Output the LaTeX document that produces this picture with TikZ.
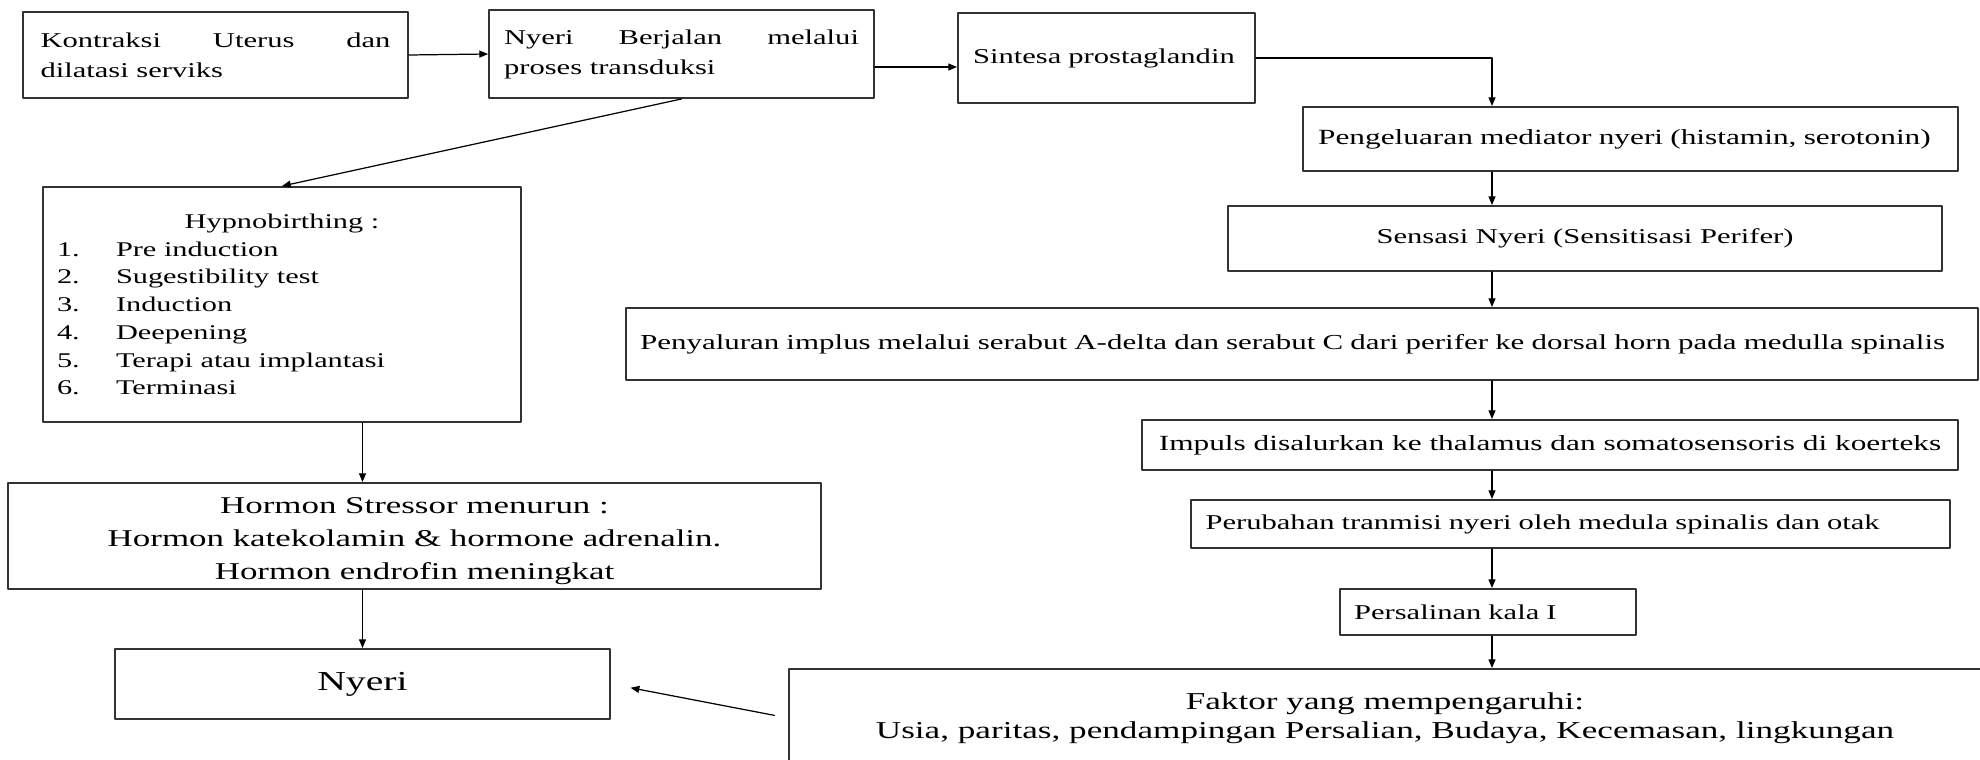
\documentclass[tikz,border=0pt]{standalone}
\usepackage{fontspec}
\setmainfont{Liberation Serif}[FakeStretch=1.45]
\usetikzlibrary{calc}
\usetikzlibrary{arrows.meta, positioning}

\newcommand{\hypnoitem}[2]{\makebox[9cm][l]{\makebox[1.18cm][l]{#1}#2}}

\begin{document}
\begin{tikzpicture}[x=0.02cm, y=-0.02cm, line cap=round, line join=round,
    box/.style={draw=black!80, line width=1.1pt, inner sep=0pt, align=center, font=\fontsize{12}{17}\selectfont},
    arr/.style={-{Triangle[length=5pt, width=4pt]}, line width=0.7pt}]
    % page
    \clip (0,0) rectangle (1980,760);
    \fill[white] (0,0) rectangle (1980,760);

    % top row
    \node[box, minimum width=7.7cm, minimum height=1.72cm, text width=7.0cm, align=justify] (kontraksi) at (215.5,55) {Kontraksi Uterus dan\linebreak dilatasi serviks};
    \node[box, minimum width=7.7cm, minimum height=1.76cm, text width=7.1cm, align=justify] (transduksi) at (681.5,54) {Nyeri Berjalan melalui\linebreak proses transduksi};
    \node[box, minimum width=5.94cm, minimum height=1.8cm, text width=5.34cm, align=left] (sintesa) at (1106.5,58) {Sintesa prostaglandin};

    % right chain
    \node[box, minimum width=13.1cm, minimum height=1.28cm, text width=12.5cm, align=left, font=\fontsize{12.3}{17}\selectfont] (mediator) at (1630.5,139) {Pengeluaran mediator nyeri (histamin, serotonin)};
    \node[box, minimum width=14.28cm, minimum height=1.3cm] (sensasi) at (1585,238.5) {Sensasi Nyeri (Sensitisasi Perifer)};
    \node[box, minimum width=27.04cm, minimum height=1.44cm, text width=26.48cm, align=left, font=\fontsize{12.15}{17}\selectfont] (penyaluran) at (1302,344) {Penyaluran implus melalui serabut A-delta dan serabut C dari perifer ke dorsal horn pada medulla spinalis};
    \node[box, minimum width=16.32cm, minimum height=1.0cm, font=\fontsize{12.3}{17}\selectfont] (impuls) at (1550,445) {Impuls disalurkan ke thalamus dan somatosensoris di koerteks};
    \node[box, minimum width=15.18cm, minimum height=0.96cm, text width=14.6cm, align=left] (perubahan) at (1570.5,524) {Perubahan tranmisi nyeri oleh medula spinalis dan otak};
    \node[box, minimum width=5.92cm, minimum height=0.92cm, text width=5.36cm, align=left] (kala) at (1488,612) {Persalinan kala I};
    \node[box, minimum width=23.84cm, minimum height=1.96cm, font=\fontsize{13.8}{16.4}\selectfont] (faktor) at (1385,718) {Faktor yang mempengaruhi:\\Usia, paritas, pendampingan Persalian, Budaya, Kecemasan, lingkungan};

    % left chain
    \node[box, minimum width=9.56cm, minimum height=4.7cm, font=\fontsize{11.9}{15.8}\selectfont] (hypno) at (282,304.5) {Hypnobirthing :\\
        \hypnoitem{1.}{Pre induction}\\
        \hypnoitem{2.}{Sugestibility test}\\
        \hypnoitem{3.}{Induction}\\
        \hypnoitem{4.}{Deepening}\\
        \hypnoitem{5.}{Terapi atau implantasi}\\
        \hypnoitem{6.}{Terminasi}};
    \node[box, minimum width=16.26cm, minimum height=2.12cm, font=\fontsize{13.7}{19}\selectfont] (hormon) at (414.5,536) {\rule{0pt}{15pt}Hormon Stressor menurun :\\Hormon katekolamin \& hormone adrenalin.\\Hormon endrofin meningkat};
    \node[box, minimum width=9.9cm, minimum height=1.4cm, font=\fontsize{15.6}{18}\selectfont] (nyeri) at (362.5,684) {Nyeri};

    % connectors
    \coordinate (spine) at (1492,0);
    \draw[arr] (kontraksi.east) -- (transduksi.west);
    \draw[arr] ($(transduksi.east)+(0,13)$) -- ($(transduksi.east -| sintesa.west)+(0,13)$);
    \draw[arr] (sintesa.east) -| (mediator.north -| spine);
    \foreach \a/\b in {mediator/sensasi, sensasi/penyaluran, penyaluran/impuls, impuls/perubahan, perubahan/kala, kala/faktor}
        \draw[arr] (\a.south -| spine) -- (\b.north -| spine);
    \draw[arr] (transduksi.south) -- (hypno.north);
    \draw[arr] (hypno.south -| nyeri.north) -- (hormon.north -| nyeri.north);
    \draw[arr] (hormon.south -| nyeri.north) -- (nyeri.north);
    \draw[arr, shorten <=0.28cm, shorten >=0.4cm] (faktor.west) -- (nyeri.east);
\end{tikzpicture}
\end{document}
